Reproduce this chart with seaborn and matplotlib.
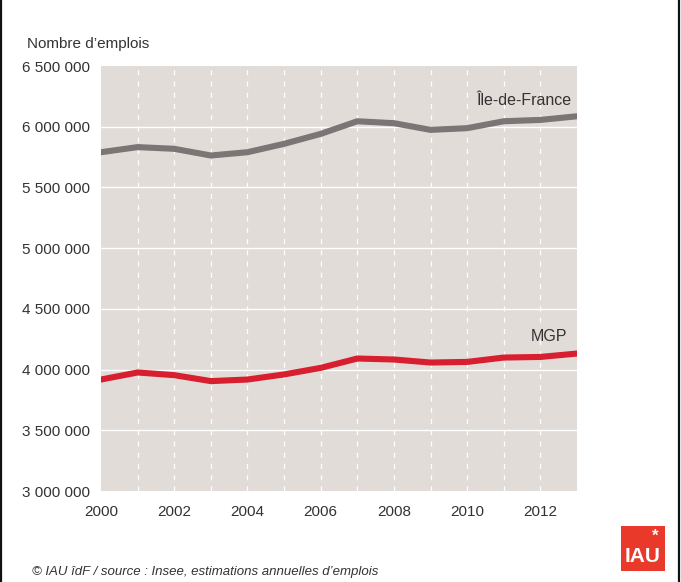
import matplotlib
matplotlib.use("Agg")
import matplotlib.pyplot as plt
from matplotlib.patches import Rectangle
import seaborn as sns
import pandas as pd

# Annual employment estimates
years = list(range(2000, 2014))
idf = [5790000, 5832000, 5818000, 5763000, 5790000, 5859000, 5941000,
       6045000, 6029000, 5974000, 5988000, 6045000, 6056000, 6086000]
mgp = [3918000, 3976000, 3954000, 3905000, 3918000, 3960000, 4014000,
       4091000, 4083000, 4058000, 4063000, 4099000, 4104000, 4132000]
series_names = ["Île-de-France", "MGP"]
y_ticks = [3000000, 3500000, 4000000, 4500000, 5000000, 5500000, 6000000, 6500000]
x_ticks = [2000, 2002, 2004, 2006, 2008, 2010, 2012]

df = pd.DataFrame({
    "annee": years * 2,
    "emplois": idf + mgp,
    "zone": [series_names[0]] * len(years) + [series_names[1]] * len(years),
})

sns.set_theme(style="white")
plt.rcParams["font.family"] = ["Liberation Sans Narrow", "Liberation Sans", "DejaVu Sans"]

W, H = 681, 582
fig = plt.figure(figsize=(W / 100, H / 100), dpi=100)
fig.patch.set_facecolor("white")
ax = fig.add_axes([101 / W, 1 - 491 / H, 476 / W, 425 / H])
ax.set_facecolor("#e2dcd9")

palette = {"Île-de-France": "#7b7675", "MGP": "#d81f2f"}
sns.lineplot(data=df, x="annee", y="emplois", hue="zone", palette=palette,
             linewidth=4.4, ax=ax, legend=False, zorder=3,
             solid_capstyle="round", solid_joinstyle="round")

ax.set_xlim(2000, 2013)
ax.set_ylim(3000000, 6500000)
ax.set_yticks(y_ticks)
ax.set_yticklabels([f"{v:,}".replace(",", " ") for v in y_ticks])
ax.set_xticks(x_ticks)
ax.set_xticklabels([str(v) for v in x_ticks])

# Grid: solid white horizontal lines, dashed white vertical lines per year
for v in y_ticks[1:-1]:
    ax.axhline(v, color="white", lw=1.0, zorder=1)
for yr in years[1:-1]:
    ax.axvline(yr, color="white", lw=0.9, ls=(0, (4, 5)), zorder=1)

for s in ax.spines.values():
    s.set_visible(False)
ax.tick_params(axis="both", length=0, labelsize=11, colors="#333333")
ax.tick_params(axis="y", pad=8)
ax.tick_params(axis="x", pad=10)
ax.set_xlabel("")
ax.set_ylabel("")

# Series labels
ax.text(2012.86, idf[-1] + 65000, series_names[0], ha="right", va="bottom",
        fontsize=11.5, color="#333333")
ax.text(2012.73, mgp[-1] + 80000, series_names[1], ha="right", va="bottom",
        fontsize=11.5, color="#333333")

fig.text(27 / W, 1 - 44 / H, "Nombre d’emplois", ha="left", va="center",
         fontsize=11, color="#333333")
fig.text(32 / W, 1 - 572 / H,
         "© IAU îdF / source : Insee, estimations annuelles d’emplois",
         ha="left", va="center", fontsize=9.5, style="italic", color="#333333")

# Logo
fig.patches.append(Rectangle((621 / W, 1 - 571 / H), 44 / W, 45 / H,
                             transform=fig.transFigure,
                             facecolor="#e8392b", edgecolor="none"))
fig.text(643 / W, 1 - 557 / H, "IAU", ha="center", va="center",
         fontsize=15, fontweight="bold", color="white")
fig.text(655 / W, 1 - 536 / H, "*", ha="center", va="center",
         fontsize=12, fontweight="bold", color="white")

# Frame
fig.patches.append(Rectangle((1 / W, -0.01), 678 / W, 1.02, transform=fig.transFigure,
                             fill=False, edgecolor="#111111", lw=1.6))

fig.savefig("out.png", dpi=100, facecolor="white")
